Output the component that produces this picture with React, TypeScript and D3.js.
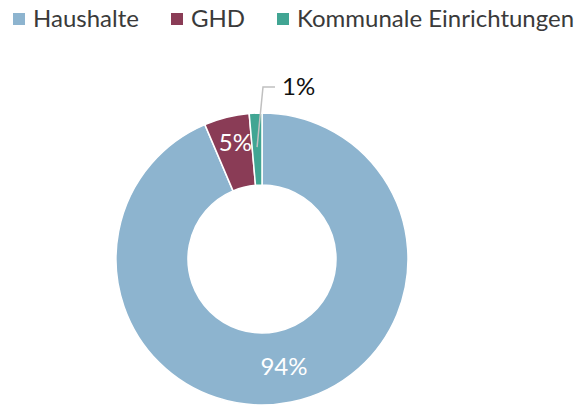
import React from "react";
import * as d3 from "d3";

const categories = ["Haushalte", "GHD", "Kommunale Einrichtungen"];
const values = [93.6, 5.0, 1.4];
const colors = ["#8db4cf", "#8a3c56", "#41a593"];
const legendX = [13, 171, 277];

export default function App() {
  const W = 575, H = 405;
  const cx = 262, cy = 259, rO = 146, rI = 74;
  const pie = d3.pie<number>().sort(null).value((d) => d)(values);
  const arc = d3.arc<d3.PieArcDatum<number>>().innerRadius(rI).outerRadius(rO);
  const total = d3.sum(values);
  const fmt = (v: number) => `${Math.round((v / total) * 100)}%`;
  const font = "Lato, 'Open Sans', sans-serif";
  return (
    <svg width={W} height={H} style={{ position: "absolute", left: 0, top: 0, fontFamily: font }}>
      {categories.map((c, i) => (
        <g key={c} transform={`translate(${legendX[i]},0)`}>
          <rect x={0} y={13} width={12} height={12} fill={colors[i]} />
          <text x={20} y={27} fontSize={24} fill="#3a3a3a">{c}</text>
        </g>
      ))}
      <g transform={`translate(${cx},${cy})`}>
        {pie.map((p, i) => (
          <path key={i} d={arc(p) || ""} fill={colors[i]} stroke="#fff" strokeWidth={1.5} />
        ))}
        {pie.map((p, i) => {
          const [x, y] = arc.centroid(p);
          if (i === 2) {
            const a = (p.startAngle + p.endAngle) / 2;
            const r0 = 112;
            const sx = r0 * Math.sin(a), sy = -r0 * Math.cos(a);
            const ey = -172;
            return (
              <g key={i}>
                <polyline points={`${sx},${sy} ${1},${ey} ${13},${ey}`} fill="none" stroke="#c0c0c0" strokeWidth={1.5} />
                <text x={20} y={ey} dy="0.35em" fontSize={24} fill="#111">{fmt(values[i])}</text>
              </g>
            );
          }
          return (
            <text key={i} x={x} y={i === 1 ? y - 10 : y} dy="0.35em" textAnchor="middle" fontSize={24} fill="#fff">
              {fmt(values[i])}
            </text>
          );
        })}
      </g>
    </svg>
  );
}
